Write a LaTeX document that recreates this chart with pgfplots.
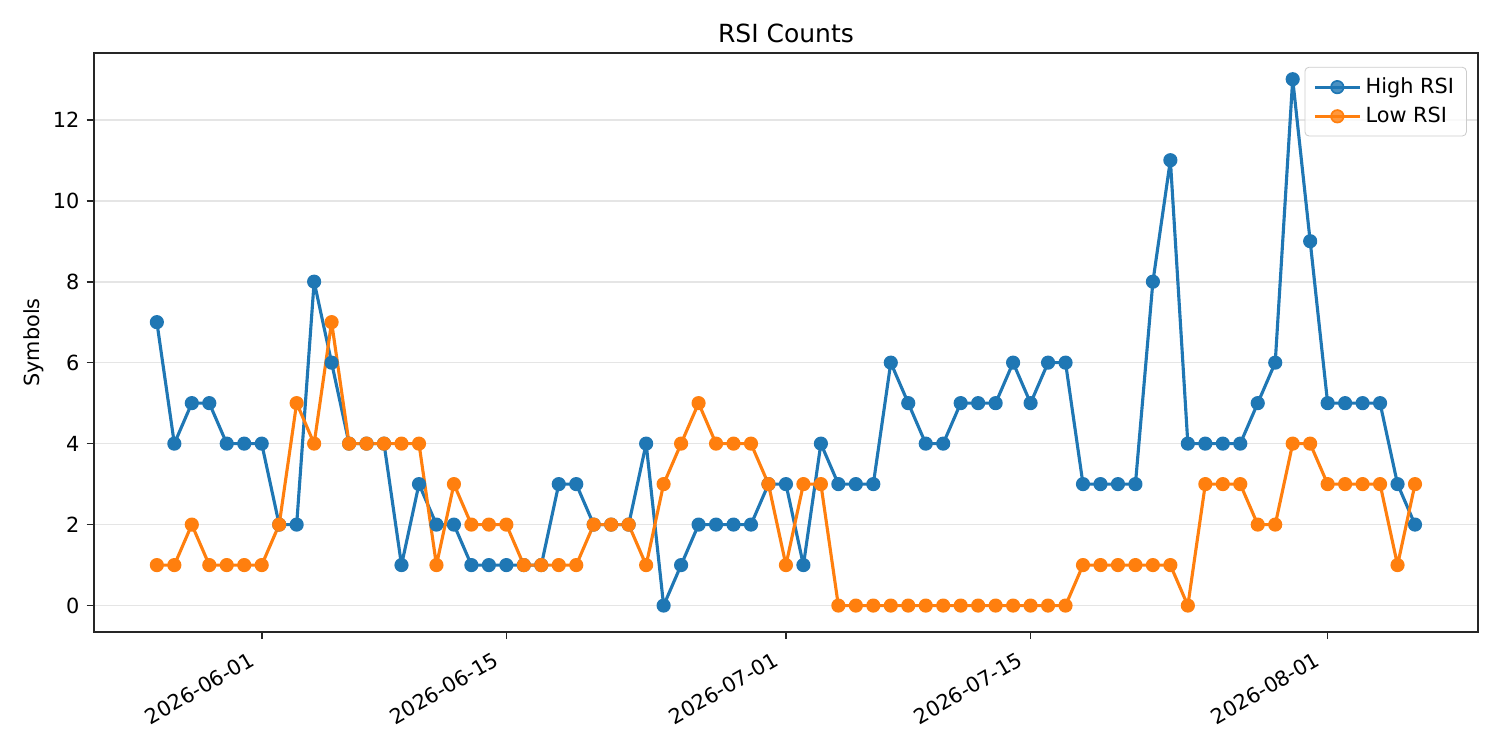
\documentclass[border=0pt]{standalone}
\usepackage{pgfplots}
\pgfplotsset{compat=1.18}
\usepackage{fontspec}
\setmainfont{DejaVu Sans}

\definecolor{tabblue}{HTML}{1F77B4}
\definecolor{taborange}{HTML}{FF7F0E}

% day index: 0 = 2026-06-01
\pgfplotstableread{
d  high low
-6 7 1
-5 4 1
-4 5 2
-3 5 1
-2 4 1
-1 4 1
0  4 1
1  2 2
2  2 5
3  8 4
4  6 7
5  4 4
6  4 4
7  4 4
8  1 4
9  3 4
10 2 1
11 2 3
12 1 2
13 1 2
14 1 2
15 1 1
16 1 1
17 3 1
18 3 1
19 2 2
20 2 2
21 2 2
22 4 1
23 0 3
24 1 4
25 2 5
26 2 4
27 2 4
28 2 4
29 3 3
30 3 1
31 1 3
32 4 3
33 3 0
34 3 0
35 3 0
36 6 0
37 5 0
38 4 0
39 4 0
40 5 0
41 5 0
42 5 0
43 6 0
44 5 0
45 6 0
46 6 0
47 3 1
48 3 1
49 3 1
50 3 1
51 8 1
52 11 1
53 4 0
54 4 3
55 4 3
56 4 3
57 5 2
58 6 2
59 13 4
60 9 4
61 5 3
62 5 3
63 5 3
64 5 3
65 3 1
66 2 3
}\rsidata

\begin{document}
\begin{tikzpicture}
\useasboundingbox (-45.1pt,-56.6pt) rectangle (674.9pt,303.3pt);
\begin{axis}[
  scale only axis,
  width=664.3pt, height=277.9pt,
  xmin=-9.6, xmax=69.6,
  ymin=-0.65, ymax=13.65,
  xtick={0,14,30,44,61},
  xticklabels={2026-06-01,2026-06-15,2026-07-01,2026-07-15,2026-08-01},
  ytick={0,2,...,12},
  xticklabel style={rotate=30, anchor=north east, inner sep=1pt, xshift=-7.5pt, yshift=-0.5pt},
  /pgf/number format/assume math mode=true,
  tick label style={font=\fontsize{10}{12}\selectfont},
  tick align=outside,
  major tick length=3.5pt,
  tick style={black!85, line width=0.8pt},
  xtick pos=bottom, ytick pos=left,
  axis line style={black!85, line width=0.8pt},
  ymajorgrids,
  grid style={gray!20, line width=0.8pt},
  title={RSI Counts},
  title style={font=\fontsize{12}{14}\selectfont, yshift=-4.5pt},
  ylabel={Symbols},
  ylabel shift=-2.5pt,
  ylabel style={font=\fontsize{10}{12}\selectfont},
  legend style={at={(0.992,0.976)}, anchor=north east,
    draw=gray!40, rounded corners=2pt, fill=white, fill opacity=0.8, text opacity=1,
    font=\fontsize{10}{12}\selectfont, row sep=1pt, inner xsep=4pt, inner ysep=3pt},
  legend cell align=left,
  legend image code/.code={\draw[mark repeat=2, mark phase=2] plot coordinates {(0cm,0cm) (0.38cm,0cm) (0.76cm,0cm)};},
]
\addplot[tabblue, line width=1.5pt, line join=round, mark=*, mark size=3pt, mark options={solid, line width=0.8pt, fill=tabblue, draw=tabblue}] table[x=d, y=high] {\rsidata};
\addlegendentry{High RSI}
\addplot[taborange, line width=1.5pt, line join=round, mark=*, mark size=3pt, mark options={solid, line width=0.8pt, fill=taborange, draw=taborange}] table[x=d, y=low] {\rsidata};
\addlegendentry{Low RSI}
\end{axis}
\end{tikzpicture}
\end{document}
